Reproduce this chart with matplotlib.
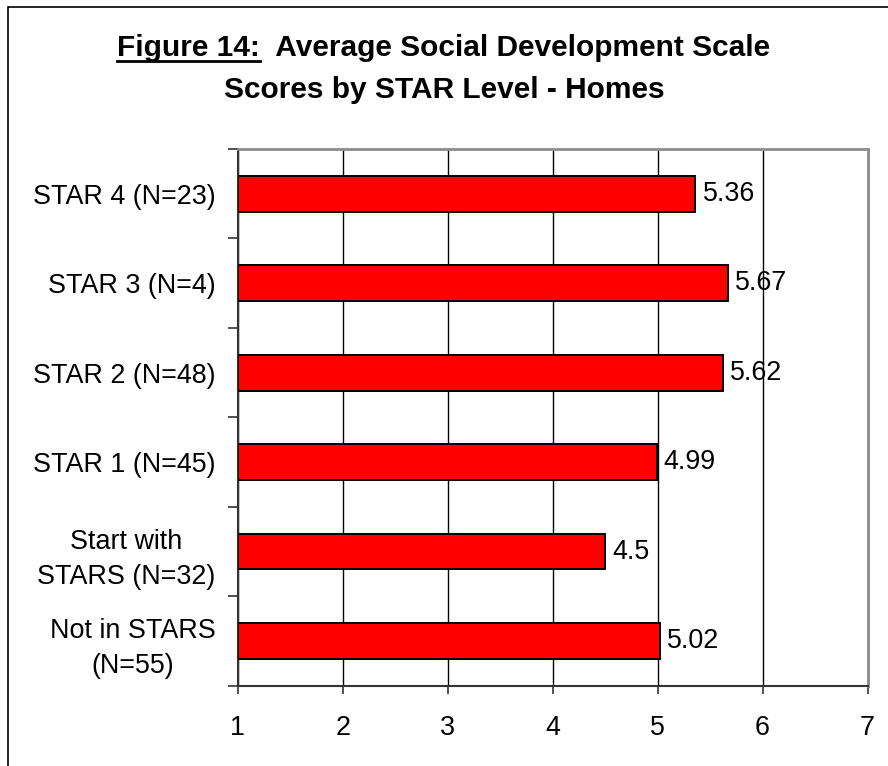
import matplotlib.pyplot as plt
from matplotlib.lines import Line2D
from matplotlib.patches import Rectangle

plt.rcParams['font.family'] = ['Liberation Sans', 'DejaVu Sans']

categories = ["Not in STARS\n(N=55)", "Start with\nSTARS (N=32)", "STAR 1 (N=45)",
              "STAR 2 (N=48)", "STAR 3 (N=4)", "STAR 4 (N=23)"]
scores = [5.02, 4.5, 4.99, 5.62, 5.67, 5.36]
x_ticks = [1, 2, 3, 4, 5, 6, 7]

W, H = 888, 766
fig = plt.figure(figsize=(W / 100, H / 100), dpi=100)
ax = fig.add_axes([237.7 / W, 1 - 685.7 / H, (867.5 - 237.7) / W, (685.7 - 149) / H])

ypos = list(range(len(categories)))
ax.barh(ypos, [s - 1 for s in scores], left=1, height=0.40, color='#ff0000',
        edgecolor='black', linewidth=1.4, zorder=3)
for y, s in zip(ypos, scores):
    ax.text(s + 0.07, y, f"{s:g}", va='center', ha='left', fontsize=19.4, zorder=4)

ax.set_xlim(1, 7)
ax.set_ylim(-0.5, len(categories) - 0.5)
ax.set_xticks(x_ticks)
ax.set_xticklabels([str(t) for t in x_ticks], fontsize=19.4)
ax.set_yticks(ypos)
ax.set_yticklabels(categories, fontsize=19.4, multialignment='center', linespacing=1.45)
ax.set_yticks([y - 0.5 for y in range(len(categories) + 1)], minor=True)
ax.tick_params(axis='y', which='major', length=0, pad=16)
ax.tick_params(axis='y', which='minor', length=7, width=1.2, color='#333333')
ax.tick_params(axis='x', length=6, width=1.2, color='#333333', pad=15)

ax.grid(axis='x', color='black', linewidth=1.0, zorder=1)
for s in ['left', 'bottom']:
    ax.spines[s].set_color('#333333')
    ax.spines[s].set_linewidth(1.5)
for s in ['top', 'right']:
    ax.spines[s].set_color('#8c8c8c')
    ax.spines[s].set_linewidth(2)

# title, first part underlined
fs_title = 21.5
t1 = fig.text(0.5, 1 - 56 / H, "Figure 14:  Average Social Development Scale",
              ha='center', va='baseline', fontsize=fs_title, fontweight='bold')
fig.text(0.5, 1 - 98 / H, "Scores by STAR Level - Homes",
         ha='center', va='baseline', fontsize=fs_title, fontweight='bold')
fig.canvas.draw()
r = fig.canvas.get_renderer()
bb = t1.get_window_extent(r)
tmp = fig.text(bb.x0 / W, 1 - 56 / H, "Figure 14:", ha='left', va='baseline',
               fontsize=fs_title, fontweight='bold')
bb2 = tmp.get_window_extent(r)
tmp.remove()
uy = 1 - 60.5 / H
fig.add_artist(Line2D([bb.x0 / W, bb2.x1 / W], [uy, uy], color='black', linewidth=2.0))

# outer frame (cropped on right and bottom)
fig.add_artist(Rectangle((8 / W, -0.1), 1.2, 1.1 - 7 / H, fill=False,
                         edgecolor='black', linewidth=1.2, clip_on=False))

fig.savefig("out.png", dpi=100)
